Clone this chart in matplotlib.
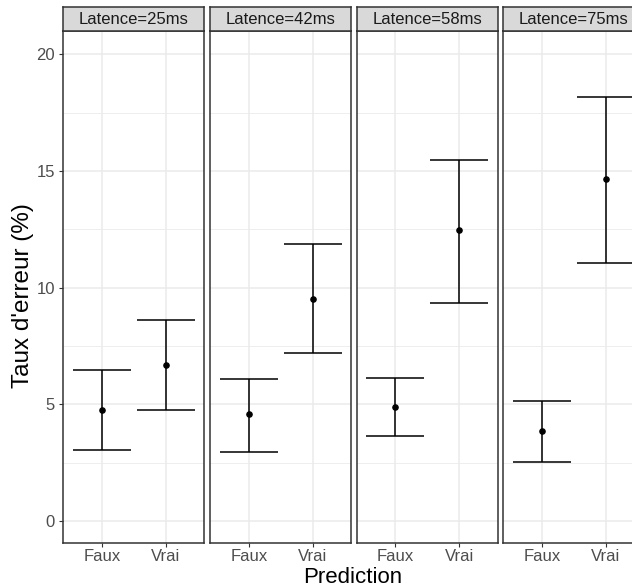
"""
Error rate by prediction, faceted by latency (ggplot theme_bw look).
"""
import matplotlib
matplotlib.use("Agg")
import matplotlib.pyplot as plt

plt.rcParams["font.family"] = ["Liberation Sans", "DejaVu Sans"]

latences = ["Latence=25ms", "Latence=42ms", "Latence=58ms", "Latence=75ms"]
predictions = ["Faux", "Vrai"]
# per facet: [Faux, Vrai]
moyenne = [[4.76, 6.70], [4.59, 9.53], [4.89, 12.45], [3.86, 14.64]]
borne_inf = [[3.05, 4.76], [2.96, 7.21], [3.65, 9.36], [2.53, 11.07]]
borne_sup = [[6.48, 8.63], [6.09, 11.85], [6.14, 15.49], [5.15, 18.15]]
y_ticks = [0, 5, 10, 15, 20]
y_minor = [2.5, 7.5, 12.5, 17.5]

W, H = 632, 588
fig = plt.figure(figsize=(W / 100, H / 100), dpi=100)

panel_left = [63.3, 210.3, 356.7, 503.3]
panel_w = 141
panel_bottom = H - 543
panel_top = H - 31
strip_h = 24

grid_col = "#EBEBEB"
frame_col = "#333333"

for i, lab in enumerate(latences):
    ax = fig.add_axes([panel_left[i] / W, panel_bottom / H,
                       panel_w / W, (panel_top - panel_bottom) / H])
    x = range(len(predictions))
    ax.errorbar(x, moyenne[i],
                yerr=[[m - lo for m, lo in zip(moyenne[i], borne_inf[i])],
                      [hi - m for m, hi in zip(moyenne[i], borne_sup[i])]],
                fmt="none", ecolor="black", elinewidth=1.1, capsize=0, zorder=3)
    for xi, lo, hi in zip(x, borne_inf[i], borne_sup[i]):
        ax.hlines([lo, hi], xi - 0.45, xi + 0.45, color="black", linewidth=1.1, zorder=3)
    ax.scatter(x, moyenne[i], s=14, color="black", zorder=4)

    ax.set_xlim(-0.6, 1.6)
    ax.set_ylim(-0.95, 21.0)
    ax.set_xticks(list(x))
    ax.set_xticklabels(predictions)
    ax.set_yticks(y_ticks)
    ax.set_yticks(y_minor, minor=True)
    ax.grid(True, which="major", color=grid_col, linewidth=1.1)
    ax.grid(True, which="minor", axis="y", color=grid_col, linewidth=0.6)
    ax.set_axisbelow(True)
    for s in ax.spines.values():
        s.set_color(frame_col)
        s.set_linewidth(1.1)
    ax.tick_params(axis="both", which="major", length=3, width=0.8, color=frame_col,
                   labelcolor="#4D4D4D", labelsize=12, pad=3)
    ax.tick_params(axis="x", which="major", pad=1)
    ax.tick_params(axis="y", which="minor", length=0)
    if i > 0:
        ax.tick_params(axis="y", which="major", left=False, labelleft=False)

    # facet strip
    sx = fig.add_axes([panel_left[i] / W, panel_top / H, panel_w / W, strip_h / H])
    sx.set_xticks([])
    sx.set_yticks([])
    sx.set_facecolor("#D9D9D9")
    for s in sx.spines.values():
        s.set_color(frame_col)
        s.set_linewidth(1.1)
    sx.text(0.5, 0.48, lab, ha="center", va="center", fontsize=12,
            color="#1A1A1A", transform=sx.transAxes)

fig.text(353 / W, 4.7 / H, "Prediction", ha="center", va="baseline", fontsize=16)
fig.text(12 / W, (H - 296) / H, "Taux d'erreur (%)",
         rotation=90, ha="left", va="center", fontsize=17.5)

fig.savefig("out.png", dpi=100)
